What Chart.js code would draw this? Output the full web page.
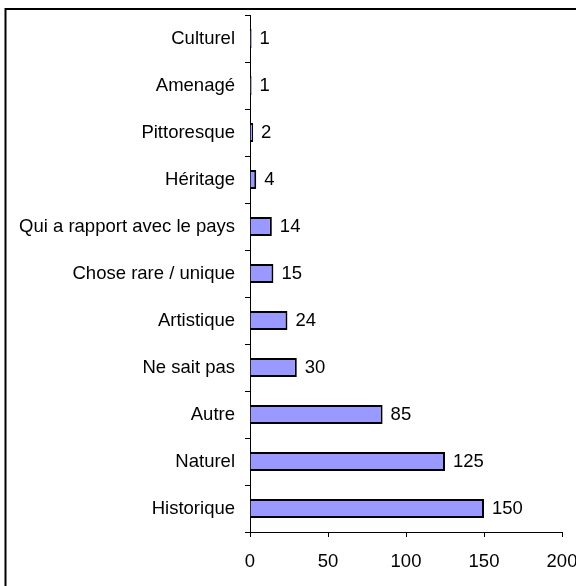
<!DOCTYPE html>
<html>
<head>
<meta charset="utf-8">
<script src="https://cdn.jsdelivr.net/npm/chart.js@4"></script>
<style>
  html, body { margin: 0; padding: 0; background: #fff; }
  canvas { display: block; }
</style>
</head>
<body>
<canvas id="chart" width="576" height="586"></canvas>
<script>
// Catégories du haut vers le bas
const categories = [
  'Culturel', 'Amenagé', 'Pittoresque', 'Héritage',
  'Qui a rapport avec le pays', 'Chose rare / unique', 'Artistique',
  'Ne sait pas', 'Autre', 'Naturel', 'Historique'
];
const counts = [1, 1, 2, 4, 14, 15, 24, 30, 85, 125, 150];
const xTicks = [0, 50, 100, 150, 200];

const FONT = { family: 'Arial, "Liberation Sans", sans-serif', size: 18.5 };

// Cadre autour du graphique
const framePlugin = {
  id: 'frame',
  beforeDraw(chart) {
    const ctx = chart.ctx;
    ctx.save();
    ctx.fillStyle = '#fff';
    ctx.fillRect(0, 0, chart.width, chart.height);
    ctx.strokeStyle = '#000';
    ctx.lineWidth = 2;
    ctx.beginPath();
    ctx.moveTo(5.5, chart.height);
    ctx.lineTo(5.5, 9);
    ctx.lineTo(chart.width, 9);
    ctx.stroke();
    ctx.restore();
  }
};

// Valeurs à droite des barres
const valueLabels = {
  id: 'valueLabels',
  afterDatasetsDraw(chart) {
    const ctx = chart.ctx;
    const meta = chart.getDatasetMeta(0);
    ctx.save();
    ctx.font = FONT.size + 'px ' + FONT.family;
    ctx.fillStyle = '#000';
    ctx.textAlign = 'left';
    ctx.textBaseline = 'middle';
    meta.data.forEach((bar, i) => {
      ctx.fillText(String(counts[i]), bar.x + 8, bar.y);
    });
    ctx.restore();
  }
};

new Chart(document.getElementById('chart'), {
  type: 'bar',
  data: {
    labels: categories,
    datasets: [{
      data: counts,
      backgroundColor: '#9999ff',
      borderColor: '#000',
      borderWidth: 2,
      barPercentage: 0.4,
      categoryPercentage: 1
    }]
  },
  options: {
    indexAxis: 'y',
    responsive: false,
    animation: false,
    devicePixelRatio: 1,
    layout: { padding: { top: 15, right: 14, left: 0, bottom: 0 } },
    plugins: {
      legend: { display: false },
      tooltip: { enabled: false }
    },
    scales: {
      x: {
        min: xTicks[0],
        max: xTicks[xTicks.length - 1],
        afterBuildTicks(scale) {
          scale.ticks = xTicks.map(v => ({ value: v }));
        },
        afterFit(scale) {
          scale.height = 54;
          scale.paddingLeft = 0;
          scale.paddingRight = 0;
        },
        border: { color: '#000', width: 1 },
        grid: { drawOnChartArea: false, drawTicks: true, tickLength: 5, color: '#000' },
        ticks: { color: '#000', font: FONT, padding: 14 }
      },
      y: {
        afterFit(scale) {
          scale.width = 250;
          scale.paddingTop = 0;
          scale.paddingBottom = 0;
        },
        border: { color: '#000', width: 1 },
        grid: { drawOnChartArea: false, drawTicks: true, tickLength: 5, color: '#000', offset: true },
        ticks: { color: '#000', font: FONT, padding: 10 }
      }
    }
  },
  plugins: [framePlugin, valueLabels]
});
</script>
</body>
</html>
